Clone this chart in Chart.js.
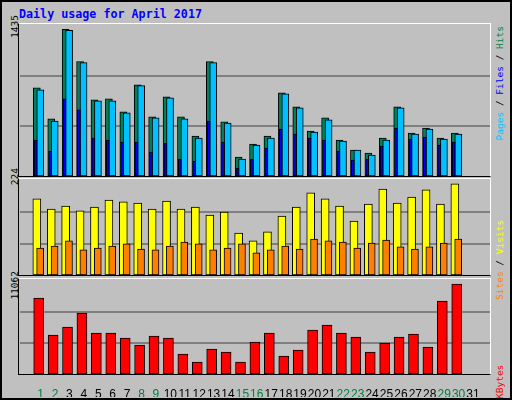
<!DOCTYPE html>
<html><head><meta charset="utf-8">
<script src="https://cdn.jsdelivr.net/npm/chart.js@4"></script>
<style>
body{margin:0;background:#fff}
#w{position:absolute;left:0;top:0;width:508px;height:396px;background:#c0c0c0;border:2px solid #000;overflow:hidden;font-family:"DejaVu Sans Mono",monospace}
canvas{position:absolute}
.fr{position:absolute;border-top:1px solid #fff;border-left:1px solid #000;border-right:1px solid #fff;border-bottom:1px solid #000;box-sizing:border-box}
.rl{position:absolute;transform:rotate(-90deg);transform-origin:center;white-space:nowrap;font-size:9.5px;height:12px;line-height:12px}
</style></head><body>
<div id="w">
<div style="position:absolute;left:17px;top:5px;color:#0000ff;font-weight:bold;font-size:11.7px">Daily usage for April 2017</div>
<div class="rl" style="left:-12px;top:32px;width:50px;text-align:right;color:#000">1435</div>
<div class="rl" style="left:-12px;top:185px;width:50px;text-align:right;color:#000">224</div>
<div class="rl" style="left:-12px;top:288px;width:50px;text-align:right;color:#000">11062</div>
<div class="rl" style="left:438px;top:78px;width:120px;text-align:right"><span style="color:#00c0ff">Pages</span> / <span style="color:#0000ff">Files</span> / <span style="color:#008040">Hits</span></div>
<div class="rl" style="left:438px;top:232px;width:120px;text-align:left"><span style="color:#ff8000">Sites</span> / <span style="color:#ffff00">Visits</span></div>
<div class="rl" style="left:438px;top:331px;width:120px;text-align:left;color:#ff0000">KBytes</div>
<canvas id="c1" width="471" height="152" style="left:18px;top:23px"></canvas>
<canvas id="c2" width="471" height="96" style="left:18px;top:178px"></canvas>
<canvas id="c3" width="471" height="117" style="left:18px;top:278px"></canvas>
</div>
<script>
const days=[1,2,3,4,5,6,7,8,9,10,11,12,13,14,15,16,17,18,19,20,21,22,23,24,25,26,27,28,29,30,31];
const weekend=[1,2,8,9,15,16,22,23,29,30];
const hits=[843,548,1394,1090,729,738,615,871,567,757,567,387,1090,520,187,311,387,795,662,434,558,349,254,225,368,662,415,463,368,415,0];
const files=[824,529,1384,1080,719,719,605,862,558,748,548,368,1080,510,168,301,368,786,653,425,539,339,254,206,349,653,406,453,358,406,0];
const pages=[349,244,738,634,368,349,330,330,235,320,168,149,529,330,83,168,273,453,406,368,349,244,159,168,292,463,358,377,301,330,0];
const visits=[180,156,163,152,161,177,173,170,156,175,156,161,142,149,100,82,103,140,161,194,180,163,128,168,203,170,184,201,168,215,0];
const sites=[65,70,82,61,65,70,75,63,61,70,79,75,61,65,75,54,61,70,63,86,82,79,65,77,84,68,63,68,77,86,0];
const kbytes=[8963,4656,5587,7217,4889,4889,4307,3492,4540,4307,2444,1513,3026,2677,1513,3841,4889,2212,2910,5238,5820,4889,4423,2677,3725,4423,4772,3259,8614,10592,0];
const maxHits=1435, maxVisits=224, maxK=11062;

function ds(vals,off,color,w,order){
  return {data:vals.map((v,i)=>({x:days[i]+off,y:v})).filter(p=>p.y>0),backgroundColor:color,borderColor:'#000',borderWidth:1,barThickness:w,grouped:false,order:order,borderSkipped:false};
}
function opts(max,showX){
  const x={type:'linear',min:0.1,max:31.72,display:showX,
        grid:{display:false},border:{display:false},
        afterBuildTicks:s=>{s.ticks=days.map(d=>({value:d}));},
        ticks:{autoSkip:false,maxRotation:0,padding:4,font:{family:'Liberation Sans',size:12},
          color:c=>weekend.includes(c.tick.value)?'#008040':'#000',callback:v=>String(v)}};
  if(showX) x.afterFit=s=>{s.height=22;};
  return {responsive:false,animation:false,devicePixelRatio:1,
    layout:{padding:0},
    plugins:{legend:{display:false},tooltip:{enabled:false}},
    scales:{
      x:x,
      y:{min:0,max:max,display:true,
        afterBuildTicks:s=>{s.ticks=[0,max/3,2*max/3,max].map(v=>({value:v}));},
        afterFit:s=>{s.width=0;},
        ticks:{display:false},border:{display:false},
        grid:{drawTicks:false,color:c=>(c.index==1||c.index==2)?'#808080':'rgba(0,0,0,0)',lineWidth:2}}
    }};
}
new Chart(document.getElementById('c1'),{type:'bar',data:{datasets:[
  ds(pages,-0.34,'#0000ff',3,1),ds(files,-0.02,'#00c0ff',7,2),ds(hits,-0.26,'#00805c',7,3)]},options:opts(maxHits,false)});
new Chart(document.getElementById('c2'),{type:'bar',data:{datasets:[
  ds(sites,-0.03,'#ff8000',7,1),ds(visits,-0.26,'#ffff00',8,2)]},options:opts(maxVisits,false)});
new Chart(document.getElementById('c3'),{type:'bar',data:{datasets:[
  ds(kbytes,-0.13,'#ff0000',10,1)]},options:opts(maxK,true)});
</script>
<div class="fr" style="left:18px;top:23px;width:473px;height:154px"></div>
<div class="fr" style="left:18px;top:178px;width:473px;height:98px"></div>
<div class="fr" style="left:18px;top:278px;width:473px;height:97px"></div>
</body></html>
